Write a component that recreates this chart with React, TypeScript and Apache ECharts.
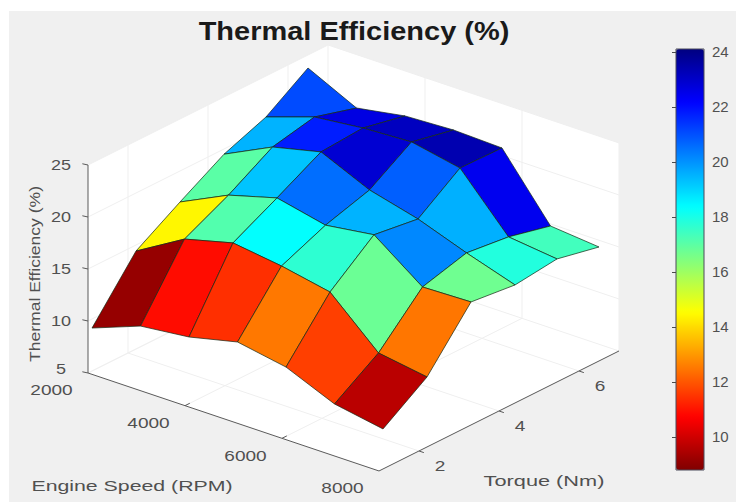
import React, { useEffect, useRef } from "react";
import * as echarts from "echarts";

const speeds = [2000, 3000, 4000, 5000, 6000, 7000, 8000];
const torques = [1.1, 2.2, 3.3, 4.4, 5.45, 6.5];
const effT1 = [9.13, 10.89, 11.41, 12.5, 11.66, 9.68, 8.85];
const effT2 = [14.42, 17.14, 18.34, 17.69, 16.76, 12.47, 11.73];
const effT3 = [17.02, 19.25, 20.55, 19.5, 20.15, 16.7, 16.83];
const effT4 = [19.5, 21.76, 22.86, 20.77, 19.55, 17.86, 16.35];
const effT5 = [21.06, 22.63, 23.14, 23.37, 22.43, 17.38, 16.83];
const effT6 = [23.75, 21.47, 22.28, 22.5, 22.34, 16.41, 15.96];
const efficiency = [effT1, effT2, effT3, effT4, effT5, effT6];

const speedTicks = [2000, 4000, 6000, 8000];
const torqueTicks = [2, 4, 6];
const effTicks = [5, 10, 15, 20, 25];
const barTicks = [10, 12, 14, 16, 18, 20, 22, 24];
const jetReversed = ["#800000", "#ff0000", "#ff8000", "#ffff00", "#80ff80", "#00ffff", "#0080ff", "#0000ff", "#000080"];

const LABEL = "#505050";
const FONT = "Liberation Sans";

// orthographic view of the axes box, onto the hidden 736x502 plane axes
const project = (s: number, t: number, z: number): [number, number] => [
  88 + ((s - 2000) / 1000) * 48.5 + (t - 1) * 40,
  373 + ((s - 2000) / 1000) * 16.33 - (t - 1) * 20 - (z - 5) * 10.4,
];

const sMin = 2000, sMax = 8000, tMin = 1, tMax = 7, zMin = 5, zMax = 25;

function line(api: any, a: number[], b: number[], stroke: string, lineWidth = 1) {
  const p = api.coord(project(a[0], a[1], a[2]));
  const q = api.coord(project(b[0], b[1], b[2]));
  return { type: "line", shape: { x1: p[0], y1: p[1], x2: q[0], y2: q[1] }, style: { stroke, lineWidth } };
}
function wall(api: any, corners: number[][]) {
  return {
    type: "polygon",
    shape: { points: corners.map((c) => api.coord(project(c[0], c[1], c[2]))) },
    style: { fill: "#ffffff", stroke: "none" },
  };
}
function label(text: string, x: number, y: number, fontSize: number, scaleX: number, extra: any = {}) {
  return {
    type: "text",
    x,
    y,
    scaleX,
    rotation: extra.rotation || 0,
    style: {
      text,
      fill: extra.fill || LABEL,
      font: `${extra.weight || "normal"} ${fontSize}px "${FONT}"`,
      align: "center",
      verticalAlign: "middle",
    },
  };
}

function renderBox(_: any, api: any) {
  const grid = "#efefef";
  const axis = "#5a5a5a";
  const children: any[] = [
    wall(api, [[sMin, tMin, zMin], [sMax, tMin, zMin], [sMax, tMax, zMin], [sMin, tMax, zMin]]),
    wall(api, [[sMin, tMin, zMin], [sMin, tMax, zMin], [sMin, tMax, zMax], [sMin, tMin, zMax]]),
    wall(api, [[sMin, tMax, zMin], [sMax, tMax, zMin], [sMax, tMax, zMax], [sMin, tMax, zMax]]),
  ];
  speedTicks.forEach((s) => {
    children.push(line(api, [s, tMin, zMin], [s, tMax, zMin], grid));
    children.push(line(api, [s, tMax, zMin], [s, tMax, zMax], grid));
  });
  torqueTicks.forEach((t) => {
    children.push(line(api, [sMin, t, zMin], [sMax, t, zMin], grid));
    children.push(line(api, [sMin, t, zMin], [sMin, t, zMax], grid));
  });
  effTicks.forEach((z) => {
    children.push(line(api, [sMin, tMin, z], [sMin, tMax, z], grid));
    children.push(line(api, [sMin, tMax, z], [sMax, tMax, z], grid));
  });
  children.push(line(api, [sMin, tMin, zMin], [sMin, tMin, zMax], axis));
  children.push(line(api, [sMin, tMin, zMin], [sMax, tMin, zMin], axis));
  children.push(line(api, [sMax, tMin, zMin], [sMax, tMax, zMin], axis));
  effTicks.forEach((z) => {
    const [x, y] = project(sMin, tMin, z);
    children.push(line(api, [sMin, tMin, z], [sMin - 100, tMin - 0.02, z], axis));
    children.push(label(String(z), x - 27, z === 5 ? y - 4 : y, 15, 1.2));
  });
  speedTicks.forEach((s) => {
    const [x, y] = project(s, tMin, zMin);
    if (s !== sMin && s !== sMax) children.push(line(api, [s, tMin, zMin], [s, tMin + 0.12, zMin], axis));
    children.push(label(String(s), x - 36.5, y + 17, 15, 1.27));
  });
  torqueTicks.forEach((t) => {
    const [x, y] = project(sMax, t, zMin);
    children.push(line(api, [sMax, t, zMin], [sMax + 100, t, zMin], axis));
    children.push(label(String(t), x + 21, y + 15, 15, 1.27));
  });
  children.push(label("Engine Speed (RPM)", 132, 486, 15, 1.42));
  children.push(label("Torque (Nm)", 544, 481, 15, 1.45));
  children.push(label("Thermal Efficiency (%)", 34, 274, 15, 1.17, { rotation: Math.PI / 2 }));
  children.push(label("Thermal Efficiency (%)", 354, 31, 26, 1.115, { weight: "bold", fill: "#1a1a1a" }));
  return { type: "group", children };
}

function renderCell(_: any, api: any) {
  const i = api.value(0);
  const j = api.value(1);
  const corners = [
    [i, j],
    [i + 1, j],
    [i + 1, j + 1],
    [i, j + 1],
  ].map(([a, b]) => api.coord(project(speeds[a], torques[b], efficiency[b][a])));
  return {
    type: "polygon",
    shape: { points: corners },
    style: { fill: api.visual("color"), stroke: "rgba(20,40,20,0.7)", lineWidth: 1, lineJoin: "round" },
  };
}

// MATLAB paints back to front: far torque rows first, from the low-speed side
const cells: number[][] = [];
for (let j = torques.length - 2; j >= 0; j--) {
  for (let i = 0; i < speeds.length - 1; i++) cells.push([i, j, efficiency[j][i]]);
}

export default function App() {
  const ref = useRef<HTMLDivElement>(null);
  useEffect(() => {
    document.body.style.margin = "0";
    document.body.style.background = "#ffffff";
    const chart = echarts.init(ref.current!, undefined, { renderer: "svg" });
    chart.setOption({
      animation: false,
      grid: [
        { left: 0, top: 0, width: 736, height: 502 },
        { left: 676, top: 49, width: 28, height: 421, show: true, z: 6, borderColor: "#4a4a5a", borderWidth: 1, backgroundColor: "transparent" },
      ],
      xAxis: [
        { gridIndex: 0, type: "value", min: 0, max: 736, show: false },
        { gridIndex: 1, type: "value", min: 0, max: 1, show: false },
      ],
      yAxis: [
        { gridIndex: 0, type: "value", min: 0, max: 502, inverse: true, show: false },
        {
          gridIndex: 1,
          type: "value",
          min: 8.8,
          max: 24.1,
          position: "right",
          z: 7,
          splitLine: { show: false },
          axisLine: { show: false },
          axisTick: { show: true, inside: true, length: 4, customValues: barTicks, lineStyle: { color: "#4a4a4a" } },
          axisLabel: { show: true, customValues: barTicks, margin: 8, color: LABEL, fontFamily: FONT, fontSize: 15 },
        },
      ],
      visualMap: {
        type: "continuous",
        min: 8.8,
        max: 24.1,
        seriesIndex: 1,
        dimension: 2,
        left: 676,
        top: 49,
        padding: 0,
        itemWidth: 28,
        itemHeight: 421,
        calculable: false,
        realtime: false,
        text: [],
        inRange: { color: jetReversed },
      },
      series: [
        { type: "custom", coordinateSystem: "cartesian2d", xAxisIndex: 0, yAxisIndex: 0, clip: false, silent: true, z: 1, data: [[0, 0]], renderItem: renderBox },
        { type: "custom", coordinateSystem: "cartesian2d", xAxisIndex: 0, yAxisIndex: 0, clip: false, silent: true, z: 2, data: cells, renderItem: renderCell },
      ],
    });
    return () => chart.dispose();
  }, []);
  return (
    <div style={{ position: "relative", width: 736, height: 502, background: "#ffffff", overflow: "hidden" }}>
      <div style={{ position: "absolute", left: 9, top: 11, right: 0, bottom: 0, background: "#f0f0f0" }} />
      <div ref={ref} style={{ position: "absolute", left: 0, top: 0, width: 736, height: 502 }} />
    </div>
  );
}
